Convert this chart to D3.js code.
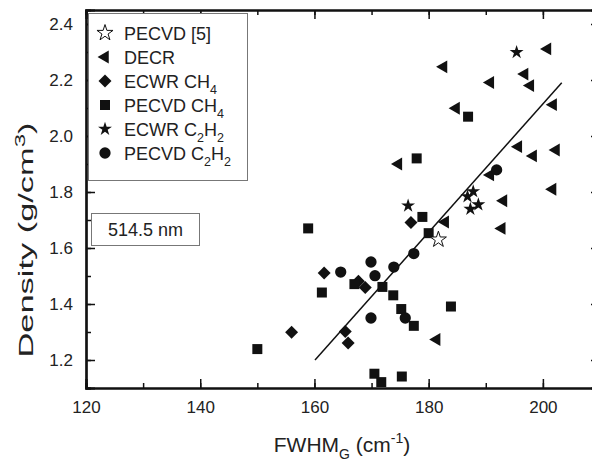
<!DOCTYPE html>
<html lang="en">
<head>
    <meta charset="UTF-8">
    <title>Density vs FWHM</title>
    <script src="https://d3js.org/d3.v7.min.js"></script>
    <style>
        body { margin: 0; background: #fff; }
        svg text { font-family: "Liberation Sans", Arial, sans-serif; fill: #222; }
    </style>
</head>
<body>
<svg id="chart" width="592" height="462"></svg>
<script>
    // data: [FWHM_G, density]
    const pecvd5 = [[181.7, 1.63]];
    const decr = [[200.8, 2.311], [182.6, 2.247], [196.8, 2.221], [190.8, 2.191], [197.8, 2.18],
        [201.8, 2.112], [184.8, 2.099], [195.7, 1.962], [202.3, 1.95], [198.3, 1.929], [174.7, 1.9],
        [190.8, 1.861], [201.7, 1.81], [193.1, 1.769], [182.9, 1.693], [192.8, 1.67], [181.4, 1.273]];
    const ecwrCH4 = [[176.9, 1.691], [161.7, 1.511], [167.7, 1.481], [168.9, 1.459], [156.0, 1.299],
        [165.4, 1.302], [165.9, 1.261]];
    const pecvdCH4 = [[186.9, 2.069], [177.9, 1.92], [178.9, 1.711], [180.0, 1.653], [158.9, 1.67],
        [150.0, 1.239], [161.3, 1.441], [167.0, 1.471], [171.9, 1.461], [173.8, 1.431], [175.2, 1.382],
        [177.4, 1.322], [183.9, 1.391], [170.5, 1.151], [171.7, 1.121], [175.3, 1.141]];
    const ecwrC2H2 = [[195.4, 2.299], [176.4, 1.751], [187.8, 1.802], [186.8, 1.784], [188.7, 1.755],
        [187.3, 1.739]];
    const pecvdC2H2 = [[191.9, 1.879], [164.6, 1.514], [169.9, 1.55], [170.6, 1.501], [173.9, 1.532],
        [177.4, 1.58], [169.9, 1.35], [175.9, 1.35]];
    const fitLine = [[160.1, 1.20], [203.3, 2.19]];

    const xTicks = [120, 140, 160, 180, 200];
    const yTicks = [1.2, 1.4, 1.6, 1.8, 2.0, 2.2, 2.4];

    const svg = d3.select('#chart');
    const x = d3.scaleLinear().domain([120, 210]).range([86, 600]);
    const y = d3.scaleLinear().domain([1.1, 2.45]).range([388, 10]);

    const ink = '#111';

    // axes, ticks pointing inward
    const g = svg.append('g');
    const minorX = d3.range(120, 211, 10);
    const minorY = d3.range(1.1, 2.46, 0.1).map(v => +v.toFixed(2));

    g.append('g').attr('transform', `translate(0,${y.range()[0]})`)
        .call(d3.axisBottom(x).tickValues(minorX).tickSize(-5).tickFormat(''));
    g.append('g').attr('transform', `translate(0,${y.range()[0]})`)
        .call(d3.axisBottom(x).tickValues(xTicks).tickSize(-9).tickPadding(10).tickFormat(d3.format('d')))
        .call(a => a.selectAll('text').attr('font-size', 17).attr('dy', '0.9em'));
    g.append('g').attr('transform', `translate(0,${y.range()[1]})`)
        .call(d3.axisTop(x).tickValues(minorX).tickSize(-5).tickFormat(''));
    g.append('g').attr('transform', `translate(0,${y.range()[1]})`)
        .call(d3.axisTop(x).tickValues(xTicks).tickSize(-9).tickFormat(''));

    g.append('g').attr('transform', `translate(${x.range()[0]},0)`)
        .call(d3.axisLeft(y).tickValues(minorY).tickSize(-5).tickFormat(''));
    g.append('g').attr('transform', `translate(${x.range()[0]},0)`)
        .call(d3.axisLeft(y).tickValues(yTicks).tickSize(-9).tickPadding(13).tickFormat(d3.format('.1f')))
        .call(a => a.selectAll('text').attr('font-size', 17));
    g.append('g').attr('transform', `translate(${x.range()[1]},0)`)
        .call(d3.axisRight(y).tickValues(yTicks).tickSize(-9).tickFormat(''));

    g.selectAll('.domain').attr('stroke', ink).attr('stroke-width', 2.2);
    g.selectAll('.tick line').attr('stroke', ink).attr('stroke-width', 1.5);
    g.selectAll('.tick text').attr('fill', '#222');

    // axis titles
    const xt = svg.append('text').attr('x', 342).attr('y', 452)
        .attr('text-anchor', 'middle').attr('font-size', 21);
    xt.append('tspan').text('FWHM');
    xt.append('tspan').attr('font-size', 14).attr('dy', 7).text('G');
    xt.append('tspan').attr('dy', -7).text(' (cm');
    xt.append('tspan').attr('font-size', 14).attr('dy', -9).text('-1');
    xt.append('tspan').attr('dy', 9).text(')');

    // the original y title is drawn stretched along its length
    const yt = svg.append('text').attr('transform', 'translate(33,240) rotate(-90) scale(1.72,1)')
        .attr('text-anchor', 'middle').attr('font-size', 20);
    yt.append('tspan').text('Density (g/cm');
    yt.append('tspan').attr('font-size', 14).attr('dy', -8).text('3');
    yt.append('tspan').attr('dy', 8).text(')');

    // fit line
    svg.append('path')
        .datum(fitLine)
        .attr('d', d3.line().x(d => x(d[0])).y(d => y(d[1])))
        .attr('stroke', ink).attr('stroke-width', 1.5).attr('fill', 'none');

    // marker styles for each series
    const series = [
        { name: 'PECVD [5]', data: pecvd5, type: d3.symbolStar, size: 80, rot: 0, open: true },
        { name: 'DECR', data: decr, type: d3.symbolTriangle, size: 72, rot: -90 },
        { name: 'ECWR CH', sub: '4', data: ecwrCH4, type: d3.symbolSquare, size: 84, rot: 45 },
        { name: 'PECVD CH', sub: '4', data: pecvdCH4, type: d3.symbolSquare, size: 100, rot: 0 },
        { name: 'ECWR C', sub: '2', name2: 'H', sub2: '2', data: ecwrC2H2, type: d3.symbolStar, size: 60, rot: 0 },
        { name: 'PECVD C', sub: '2', name2: 'H', sub2: '2', data: pecvdC2H2, type: d3.symbolCircle, size: 100, rot: 0 }
    ];

    const styleMark = (sel, s) => sel
        .attr('d', d3.symbol().type(s.type).size(s.size))
        .attr('fill', s.open ? '#fff' : ink)
        .attr('stroke', s.open ? ink : 'none')
        .attr('stroke-width', 1);

    // draw points, open star last so it sits on top
    const order = [1, 2, 3, 4, 5, 0];
    order.forEach(i => {
        const s = series[i];
        svg.append('g').selectAll('path')
            .data(s.data)
            .join('path')
            .attr('transform', d => `translate(${x(d[0])},${y(d[1])}) rotate(${s.rot})`)
            .call(styleMark, s);
    });

    // legend
    const legend = svg.append('g');
    legend.append('rect').attr('x', 88.5).attr('y', 13.5).attr('width', 159).attr('height', 167)
        .attr('fill', '#fff').attr('stroke', '#777').attr('stroke-width', 1);

    series.forEach((s, i) => {
        const ly = 33 + i * 24;
        legend.append('path')
            .attr('transform', `translate(105,${ly}) rotate(${s.rot})`)
            .call(styleMark, s);
        const t = legend.append('text').attr('x', 124).attr('y', ly + 6.5).attr('font-size', 18);
        t.append('tspan').text(s.name);
        if (s.sub) t.append('tspan').attr('font-size', 12.5).attr('dy', 6).text(s.sub);
        if (s.name2) {
            t.append('tspan').attr('dy', -6).text(s.name2);
            t.append('tspan').attr('font-size', 12.5).attr('dy', 6).text(s.sub2);
        }
    });

    // wavelength label
    svg.append('rect').attr('x', 91.5).attr('y', 213.5).attr('width', 108).attr('height', 32)
        .attr('fill', '#fff').attr('stroke', '#777').attr('stroke-width', 1);
    svg.append('text').attr('x', 145.5).attr('y', 236).attr('text-anchor', 'middle')
        .attr('font-size', 18).text('514.5 nm');
</script>
</body>
</html>
